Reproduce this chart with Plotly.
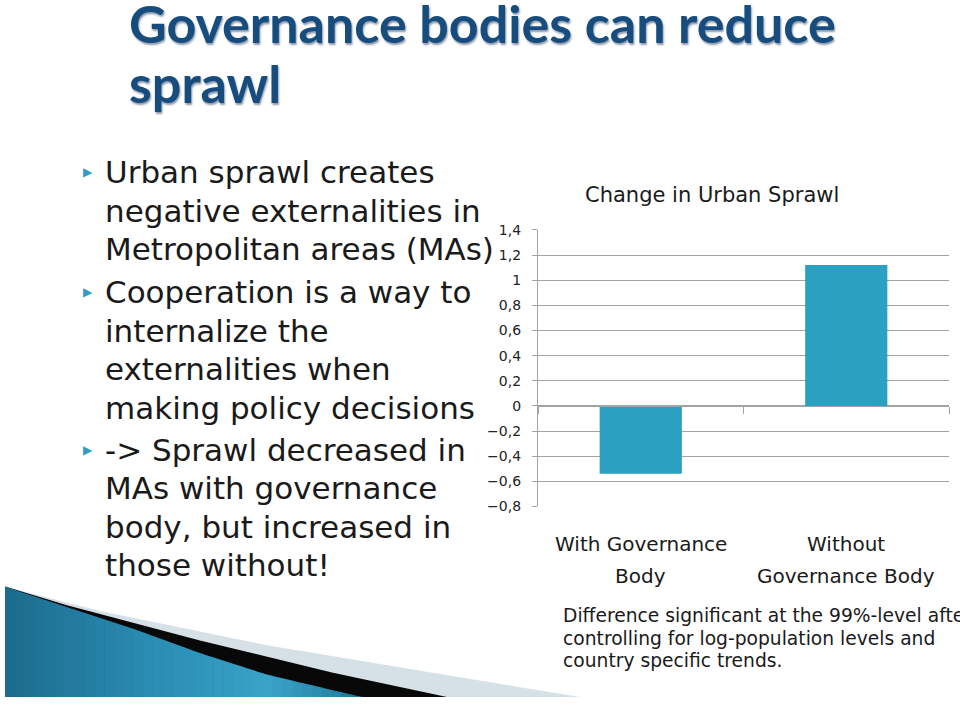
import plotly.graph_objects as go

# ---------------- data ----------------
categories = ["With Governance Body", "Without Governance Body"]
values = [-0.54, 1.12]
cat_line1 = ["With Governance", "Without"]
cat_line2 = ["Body", "Governance Body"]
y_tickvals = [-0.8, -0.6, -0.4, -0.2, 0, 0.2, 0.4, 0.6, 0.8, 1.0, 1.2, 1.4]
y_ticktext = ["\u22120,8", "\u22120,6", "\u22120,4", "\u22120,2", "0", "0,2", "0,4", "0,6", "0,8", "1", "1,2", "1,4"]
chart_title = "Change in Urban Sprawl"
slide_title = ["Governance bodies can reduce", "sprawl"]
bullets = [
    ["Urban sprawl creates", "negative externalities in", "Metropolitan areas (MAs)"],
    ["Cooperation is a way to", "internalize the", "externalities when", "making policy decisions"],
    ["-> Sprawl decreased in", "MAs with governance", "body, but increased in", "those without!"],
]
footnote = ["Difference significant at the 99%-level after",
            "controlling for log-population levels and",
            "country specific trends."]

W, H = 960, 708


def py(y):
    return 1 - y / H


def px(x):
    return x / W


BAR = "#2ba0c0"
GRID = "#a3a3a3"
TXT = "#1a1a1a"

fig = go.Figure()
fig.add_trace(go.Bar(x=categories, y=values, marker=dict(color=BAR, line=dict(width=0)),
                     showlegend=False, hoverinfo="x+y"))

y_lo, y_hi = -0.8, 1.4
dom_y = [py(510), py(227)]
zero_pos = dom_y[0] + (0 - y_lo) / (y_hi - y_lo) * (dom_y[1] - dom_y[0])

fig.update_layout(
    width=W, height=H, margin=dict(l=0, r=0, t=0, b=0),
    paper_bgcolor="white", plot_bgcolor="white",
    bargap=0.6,
    xaxis=dict(domain=[px(538), px(949)], anchor="free", position=zero_pos,
               type="category", range=[-0.5, 1.5],
               showticklabels=False, tickson="boundaries", ticks="outside",
               ticklen=7, tickcolor=GRID, tickwidth=1.3,
               showline=True, linecolor=GRID, linewidth=1.3, showgrid=False),
    yaxis=dict(domain=dom_y, range=[y_lo, y_hi], tickvals=y_tickvals, ticktext=y_ticktext,
               showgrid=True, gridcolor=GRID, gridwidth=1.3, zeroline=False,
               showline=True, linecolor=GRID, linewidth=1.3,
               ticks="outside", ticklen=5, tickcolor=GRID,
               ticklabelstandoff=8,
               tickfont=dict(family="DejaVu Sans", size=14, color="#222")),
)

ann = []
# slide title
for i, line in enumerate(slide_title):
    ann.append(dict(text=f"<b>{line}</b>", x=px(127), y=py([15, 77][i]), xref="paper", yref="paper",
                    xanchor="left", yanchor="middle", showarrow=False,
                    font=dict(family="Lato", size=52, color="#174c7e",
                              shadow="1px 2px 2px rgba(0,30,70,0.45)")))
# bullets
line_y = [[168, 208, 247], [291, 330, 369, 409], [452, 491, 531, 570]]
for b, lines in enumerate(bullets):
    ann.append(dict(text="\u25B6", x=px(88), y=py(line_y[b][0]), xref="paper", yref="paper",
                    xanchor="center", yanchor="middle", showarrow=False,
                    font=dict(family="DejaVu Sans", size=12, color="#2e9cc4")))
    for j, line in enumerate(lines):
        ann.append(dict(text=line, x=px(103), y=py(line_y[b][j]), xref="paper", yref="paper",
                        xanchor="left", yanchor="middle", showarrow=False,
                        font=dict(family="DejaVu Sans", size=31, color=TXT)))
# chart title
ann.append(dict(text=chart_title, x=px(712), y=py(191), xref="paper", yref="paper",
                xanchor="center", yanchor="middle", showarrow=False,
                font=dict(family="DejaVu Sans", size=21, color=TXT)))
# category labels
for c, l1, l2 in zip(categories, cat_line1, cat_line2):
    ann.append(dict(text=l1, x=c, xref="x", y=py(548), yref="paper", xanchor="center",
                    yanchor="middle", showarrow=False,
                    font=dict(family="DejaVu Sans", size=20, color=TXT)))
    ann.append(dict(text=l2, x=c, xref="x", y=py(581), yref="paper", xanchor="center",
                    yanchor="middle", showarrow=False,
                    font=dict(family="DejaVu Sans", size=20, color=TXT)))
# footnote
for k, line in enumerate(footnote):
    ann.append(dict(text=line, x=px(561), y=py([622, 645, 668][k]), xref="paper", yref="paper",
                    xanchor="left", yanchor="middle", showarrow=False,
                    font=dict(family="DejaVu Sans", size=18.7, color=TXT)))
fig.update_layout(annotations=ann)


# ---------------- decorative corner swoosh (paper coordinates) ----------------
def path(points):
    return "M " + " L ".join(f"{px(x):.5f},{py(y):.5f}" for x, y in points) + " Z"


BOTTOM = 705
gray_edge = [(5, 592), (100, 617), (267, 652), (433, 680), (520, 695), (580, BOTTOM)]
black_edge = [(5, 592), (67, 611), (200, 647), (333, 680), (447, BOTTOM)]
blue_edge = [(5, 592), (67, 613), (133, 635), (200, 660), (267, 682), (333, 698), (362, BOTTOM)]


def edge_y(edge, x):
    for (x0, y0), (x1, y1) in zip(edge[:-1], edge[1:]):
        if x0 <= x <= x1:
            return y0 + (y1 - y0) * (x - x0) / (x1 - x0)
    return BOTTOM


shapes = [
    dict(type="path", xref="paper", yref="paper", line=dict(width=0), fillcolor="#d5e1e7",
         path=path(gray_edge + [(5, BOTTOM)])),
    dict(type="path", xref="paper", yref="paper", line=dict(width=0), fillcolor="#080808",
         path=path(black_edge + [(5, BOTTOM)])),
]
# blue region split in vertical strips to mimic its gradient
stops = [(5, (28, 108, 140)), (150, (42, 140, 178)), (270, (58, 163, 200)), (362, (30, 120, 155))]


def col_at(x):
    for (xa, ca), (xb, cb) in zip(stops[:-1], stops[1:]):
        if xa <= x <= xb:
            t = (x - xa) / (xb - xa)
            return "rgb(%d,%d,%d)" % tuple(round(a + (b - a) * t) for a, b in zip(ca, cb))
    return "rgb(%d,%d,%d)" % stops[-1][1]


n = 36
xs = [5 + (362 - 5) * i / n for i in range(n + 1)]
for xa, xb in zip(xs[:-1], xs[1:]):
    pts = [(xa, edge_y(blue_edge, xa))]
    pts += [p for p in blue_edge if xa < p[0] < xb]
    pts += [(xb + 0.6, edge_y(blue_edge, min(xb + 0.6, 362))), (xb + 0.6, BOTTOM), (xa, BOTTOM)]
    shapes.append(dict(type="path", xref="paper", yref="paper", line=dict(width=0),
                       fillcolor=col_at((xa + xb) / 2), path=path(pts)))
fig.update_layout(shapes=shapes)

fig.write_html("out.html")
